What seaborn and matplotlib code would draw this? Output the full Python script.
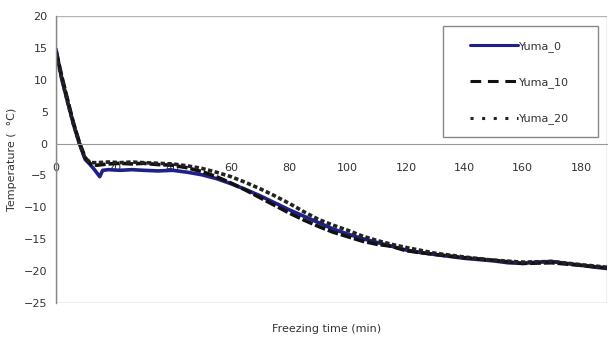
import numpy as np
import pandas as pd
import matplotlib
matplotlib.use("Agg")
import matplotlib.pyplot as plt
import seaborn as sns
from matplotlib.patches import Rectangle

# freezing curves (min, degC)
t_yuma0 = [0, 2, 4, 6, 8, 10, 11.5, 13, 14, 15, 16, 18, 22, 26, 30, 35, 40, 45, 50, 55,
           60, 65, 70, 75, 80, 85, 90, 95, 100, 105, 110, 115, 120, 125, 130, 135, 140,
           145, 150, 155, 160, 165, 170, 175, 180, 185, 189]
temp_yuma0 = [14.8, 10, 6.5, 3, 0, -2.5, -3.2, -4, -4.6, -5.2, -4.2, -4.1, -4.2, -4.1, -4.2,
              -4.3, -4.2, -4.5, -4.9, -5.5, -6.3, -7.2, -8.2, -9.3, -10.4, -11.4, -12.4,
              -13.4, -14.2, -14.9, -15.5, -16.1, -16.7, -17.1, -17.4, -17.7, -18.0, -18.2,
              -18.4, -18.7, -18.8, -18.6, -18.5, -18.8, -19.1, -19.4, -19.6]

t_yuma10 = [0, 2, 4, 6, 8, 10, 12, 14, 18, 22, 26, 30, 35, 40, 45, 50, 55, 60, 65, 70, 75,
            80, 85, 90, 95, 100, 105, 110, 115, 120, 130, 140, 150, 160, 170, 180, 189]
temp_yuma10 = [14.5, 10.5, 6.8, 3.2, 0.2, -2.2, -3.3, -3.4, -3.2, -3.1, -3.2, -3.1, -3.3,
               -3.4, -3.8, -4.4, -5.2, -6.2, -7.3, -8.5, -9.7, -10.9, -12.0, -13.0, -13.9,
               -14.6, -15.3, -15.8, -16.1, -16.8, -17.4, -17.9, -18.3, -18.8, -18.7,
               -19.1, -19.5]

t_yuma20 = [0, 2, 4, 6, 8, 10, 12, 14, 18, 22, 26, 30, 35, 40, 45, 50, 55, 60, 65, 70, 75,
            80, 85, 90, 95, 100, 105, 110, 115, 120, 130, 140, 150, 160, 170, 180, 189]
temp_yuma20 = [14, 10.2, 6.4, 3, 0, -2.4, -3.0, -3.0, -2.9, -3.0, -2.9, -3.0, -3.1, -3.2,
               -3.5, -3.9, -4.5, -5.2, -6.1, -7.1, -8.2, -9.4, -10.7, -11.9, -12.8, -13.6,
               -14.5, -15.2, -15.8, -16.3, -17.2, -17.8, -18.3, -18.6, -18.5, -19.0, -19.4]

x_ticks = [0, 20, 40, 60, 80, 100, 120, 140, 160, 180]
y_ticks = [-25, -20, -15, -10, -5, 0, 5, 10, 15, 20]

sns.set_style("white")
plt.rcParams['font.family'] = ['DejaVu Sans']

fig = plt.figure(figsize=(6.11, 3.40), dpi=100)
ax = fig.add_axes([0.0917, 0.109, 0.902, 0.844])

sns.lineplot(x=t_yuma0, y=temp_yuma0, ax=ax, color="#20208a", lw=2.6,
             label="Yuma_0", sort=False)
sns.lineplot(x=t_yuma10, y=temp_yuma10, ax=ax, color="#111111", lw=2.6,
             label="Yuma_10", sort=False)
sns.lineplot(x=t_yuma20, y=temp_yuma20, ax=ax, color="#222222", lw=2.6,
             label="Yuma_20", sort=False)
# the curves are so noisy in the source that dashes read as nearly solid
ax.lines[1].set_dashes([3, 0.8])
ax.lines[2].set_dashes([1.2, 0.7])

ax.set_xlim(0, 189)
ax.set_ylim(-25, 20)
ax.set_xticks(x_ticks)
ax.set_yticks(y_ticks)
ax.set_axisbelow(True)

for s in ["top", "right"]:
    ax.spines[s].set_visible(False)
ax.spines["bottom"].set_position(("data", 0))
ax.spines["bottom"].set_color("#999999")
ax.spines["left"].set_color("#888888")
ax.spines["left"].set_linewidth(1.0)
ax.add_patch(Rectangle((0, 0), 1, 1, transform=ax.transAxes, fill=False,
                       edgecolor="#b5b5b5", lw=1.0, zorder=0.4))

ax.tick_params(axis="x", direction="in", length=3, color="#999999",
               pad=14, labelsize=8, labelcolor="#333333")
ax.tick_params(axis="y", length=0, pad=6, labelsize=8, labelcolor="#333333")

ax.set_xlabel("Freezing time (min)", fontsize=8, color="#333333")
ax.xaxis.set_label_coords(0.49, -0.075)
ax.set_ylabel("Temperature (  \u00b0C)", fontsize=8, color="#333333")
ax.yaxis.set_label_coords(-0.07, 0.5)

leg = ax.legend(loc="upper left", bbox_to_anchor=(0.751, 0.914), fontsize=8,
                frameon=False, handlelength=4.3, handletextpad=0.15,
                labelspacing=2.3, borderpad=0, borderaxespad=0)
for txt in leg.get_texts():
    txt.set_color("#333333")
leg_lines = leg.get_lines()
leg_lines[0].set_linewidth(2.2)
leg_lines[1].set_dashes([3.5, 2.2])
leg_lines[1].set_linewidth(2.2)
leg_lines[2].set_dashes([1, 2.8])
leg_lines[2].set_linewidth(2.2)
ax.add_patch(Rectangle((0.702, 0.578), 0.281, 0.387, transform=ax.transAxes,
                       fill=False, edgecolor="#888888", lw=1.0, zorder=3))

fig.savefig("out.png", dpi=100)
